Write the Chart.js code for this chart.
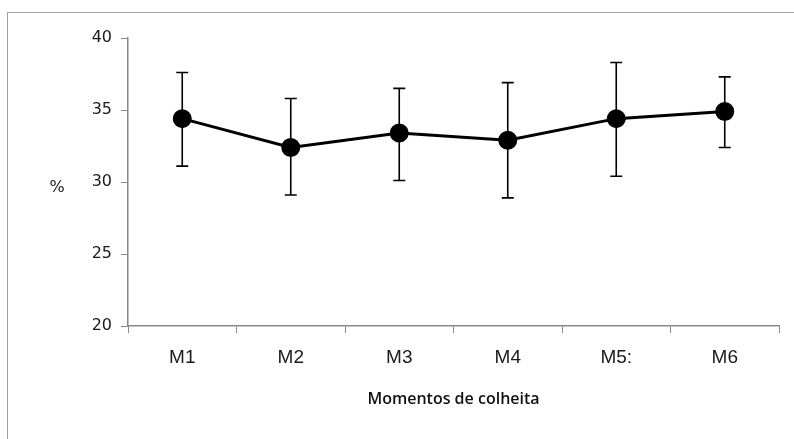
<!DOCTYPE html>
<html>
<head>
<meta charset="utf-8">
<script src="https://cdn.jsdelivr.net/npm/chart.js@4"></script>
<style>
    html, body { margin: 0; padding: 0; background: #fff; overflow: hidden; }
    #moldura { position: absolute; left: 7px; top: 12px; width: 820px; height: 460px; border: 1px solid #a0a0a0; }
    #caixa { position: absolute; left: 0; top: 0; width: 794px; height: 439px; }
</style>
</head>
<body>
<div id="moldura"></div>
<div id="caixa"><canvas id="grafico"></canvas></div>
<script>
var momentos = ['M1', 'M2', 'M3', 'M4', 'M5:', 'M6'];
var medias = [34.4, 32.4, 33.4, 32.9, 34.4, 34.9];
var erroSup = [37.6, 35.8, 36.5, 36.9, 38.3, 37.3];
var erroInf = [31.1, 29.1, 30.1, 28.9, 30.4, 32.4];
var ticksY = [20, 25, 30, 35, 40];

// barras de erro desenhadas com as escalas do grafico
const barrasErro = {
    id: 'barrasErro',
    afterDatasetsDraw(chart) {
        const ctx = chart.ctx;
        const x = chart.scales.x;
        const y = chart.scales.y;
        ctx.save();
        ctx.strokeStyle = '#000';
        ctx.lineWidth = 1.6;
        momentos.forEach((m, i) => {
            const px = x.getPixelForValue(i);
            const yTop = y.getPixelForValue(erroSup[i]);
            const yBot = y.getPixelForValue(erroInf[i]);
            ctx.beginPath();
            ctx.moveTo(px, yTop);
            ctx.lineTo(px, yBot);
            ctx.moveTo(px - 6, yTop);
            ctx.lineTo(px + 6, yTop);
            ctx.moveTo(px - 6, yBot);
            ctx.lineTo(px + 6, yBot);
            ctx.stroke();
        });
        ctx.restore();
    }
};

// rotulo "%" horizontal ao lado do eixo y
const rotuloY = {
    id: 'rotuloY',
    afterDraw(chart) {
        const ctx = chart.ctx;
        const y = chart.scales.y;
        ctx.save();
        ctx.font = '16px "DejaVu Sans"';
        ctx.fillStyle = '#222';
        ctx.textAlign = 'center';
        ctx.textBaseline = 'middle';
        ctx.fillText('%', 57, y.getPixelForValue(29.6));
        ctx.restore();
    }
};

new Chart(document.getElementById('grafico'), {
    type: 'line',
    data: {
        labels: momentos,
        datasets: [
            {
                label: 'Média',
                data: medias,
                borderColor: '#000',
                backgroundColor: '#000',
                borderWidth: 3,
                pointRadius: 8,
                pointHoverRadius: 8,
                pointBackgroundColor: '#000',
                pointBorderColor: '#000',
                tension: 0
            }
        ]
    },
    options: {
        responsive: true,
        maintainAspectRatio: false,
        animation: false,
        layout: { padding: { left: 0, right: 15, top: 38, bottom: 0 } },
        plugins: {
            legend: { display: false },
            tooltip: { enabled: false }
        },
        scales: {
            x: {
                offset: true,
                grid: {
                    offset: true,
                    drawOnChartArea: false,
                    drawTicks: true,
                    tickLength: 7,
                    color: '#888'
                },
                border: { display: true, color: '#888', width: 1.5 },
                ticks: {
                    color: '#1a1a1a',
                    padding: 13,
                    maxRotation: 0,
                    font: { family: '"Liberation Sans", Arial', size: 19 }
                },
                title: {
                    display: true,
                    text: 'Momentos de colheita',
                    color: '#111',
                    padding: { top: 6, bottom: 30 },
                    font: { family: '"Open Sans"', size: 16, weight: '600' }
                },
                afterFit: function (scale) { scale.height = 113; }
            },
            y: {
                min: 20,
                max: 40,
                afterBuildTicks: function (scale) {
                    scale.ticks = ticksY.map(v => ({ value: v }));
                },
                grid: {
                    drawOnChartArea: false,
                    drawTicks: true,
                    tickLength: 7,
                    color: '#888'
                },
                border: { display: true, color: '#888', width: 1.5 },
                ticks: {
                    color: '#1a1a1a',
                    padding: 9,
                    font: { family: '"DejaVu Sans"', size: 16 }
                },
                afterFit: function (scale) { scale.width = 128; }
            }
        }
    },
    plugins: [barrasErro, rotuloY]
});
</script>
</body>
</html>
